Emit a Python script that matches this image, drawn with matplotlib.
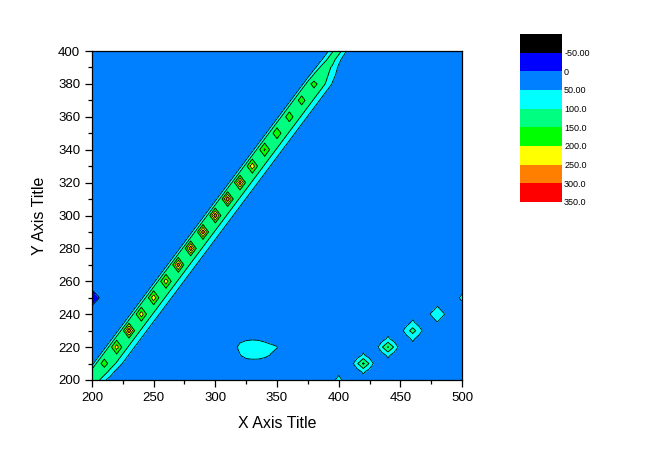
import numpy as np
import matplotlib.pyplot as plt

plt.rcParams['font.family'] = ['Liberation Sans', 'DejaVu Sans']

# grid of the matrix (step 5)
x_vals = np.arange(200, 505, 5)
y_vals = np.arange(200, 405, 5)

background = 25

# band along x = y, values at offsets -5, 0, +5, +10, +15 from the diagonal
band_offsets = [-5, 0, 5, 10, 15]
band_vals = [135, 135, 135, 92, 45]
# rows where the band is narrower (bottom corner and above the last peak)
special_rows = [200, 205, 385, 390, 395, 400]
special_vals = [[25, 135, 112, 60, 25],
                [135, 135, 128, 78, 32],
                [120, 132, 112, 66, 30],
                [105, 130, 88, 42, 25],
                [95, 130, 65, 28, 25],
                [95, 130, 60, 25, 25]]

peak_pos = [210, 220, 230, 240, 250, 260, 270, 280, 290,
            300, 310, 320, 330, 340, 350, 360, 370, 380]
peak_vals = [168, 228, 290, 232, 238, 232, 285, 292, 288,
             290, 295, 282, 238, 210, 178, 172, 168, 165]

# isolated spots: x, y, centre, left/right neighbours, up/down neighbours
spot_x = [400, 420, 440, 460, 480, 500, 200]
spot_y = [200, 210, 220, 230, 240, 250, 250]
spot_c = [80, 160, 155, 120, 95, 70, -45]
spot_h = [25, 94, 94, 80, 55, 25, -5]
spot_v = [25, 60, 62, 62, 48, 25, 2]

# light cyan blob near (330, 220)
blob_x = [315, 320, 325, 330, 335, 340, 345, 350, 355]
blob_y = [210, 215, 220, 225]
blob_z = [[25, 28, 30, 32, 32, 30, 28, 25, 25],
          [30, 48, 63, 66, 65, 58, 48, 35, 25],
          [35, 62, 73, 76, 73, 66, 58, 52, 25],
          [25, 38, 44, 46, 45, 40, 35, 30, 25]]

levels = [-100, -50, 0, 50, 100, 150, 200, 250, 300, 350]
level_colors = ['#000000', '#0000FF', '#0080FF', '#00FFFF', '#00FF80',
                '#00FF00', '#FFFF00', '#FF8000', '#FF0000']
level_labels = ['-50.00', '0', '50.00', '100.0', '150.0',
                '200.0', '250.0', '300.0', '350.0']


def ix(v):
    return int(round((v - 200) / 5))


Z = np.full((len(y_vals), len(x_vals)), float(background))
for r, yv in enumerate(y_vals):
    vals = band_vals
    if yv in special_rows:
        vals = special_vals[special_rows.index(yv)]
    for off, val in zip(band_offsets, vals):
        xv = yv + off
        if 200 <= xv <= 500:
            Z[r, ix(xv)] = val
for p, v in zip(peak_pos, peak_vals):
    Z[ix(p), ix(p)] = v

for sx, sy, c, h, v in zip(spot_x, spot_y, spot_c, spot_h, spot_v):
    Z[ix(sy), ix(sx)] = c
    for dx in (-5, 5):
        if 200 <= sx + dx <= 500:
            Z[ix(sy), ix(sx + dx)] = h
    for dy in (-5, 5):
        if 200 <= sy + dy <= 400:
            Z[ix(sy + dy), ix(sx)] = v

for i, by in enumerate(blob_y):
    for j, bx in enumerate(blob_x):
        Z[ix(by), ix(bx)] = blob_z[i][j]

X, Y = np.meshgrid(x_vals, y_vals)

fig = plt.figure(figsize=(6.5, 4.59), dpi=100)
ax = fig.add_axes([92 / 650, 1 - 380 / 459, 370 / 650, 329 / 459])
ax.contourf(X, Y, Z, levels=levels, colors=level_colors)
ax.contour(X, Y, Z, levels=levels, colors='k', linewidths=0.6)

ax.set_xlim(200, 500)
ax.set_ylim(200, 400)
ax.set_xticks(np.arange(200, 501, 50))
ax.set_xticks(np.arange(200, 501, 25), minor=True)
ax.set_yticks(np.arange(200, 401, 20))
ax.set_yticks(np.arange(200, 401, 10), minor=True)
ax.tick_params(which='major', direction='out', length=5, width=0.9, labelsize=9.5)
ax.tick_params(which='minor', direction='out', length=3, width=0.9)
for s in ax.spines.values():
    s.set_linewidth(0.9)
ax.set_xlabel('X Axis Title', fontsize=11.5, labelpad=9)
ax.set_ylabel('Y Axis Title', fontsize=11.5, labelpad=8)

# colour scale
lax = fig.add_axes([520 / 650, 1 - 202 / 459, 42 / 650, 168 / 459])
lax.barh(np.arange(9) + 0.5, 1, height=1, color=level_colors)
lax.set_xlim(0, 1)
lax.set_ylim(9, 0)
lax.axis('off')
for i, lab in enumerate(level_labels):
    lax.text(1.05, i + 1.05, lab, fontsize=6.5, va='center', ha='left',
             transform=lax.get_yaxis_transform())

plt.savefig('out.png', dpi=100)
